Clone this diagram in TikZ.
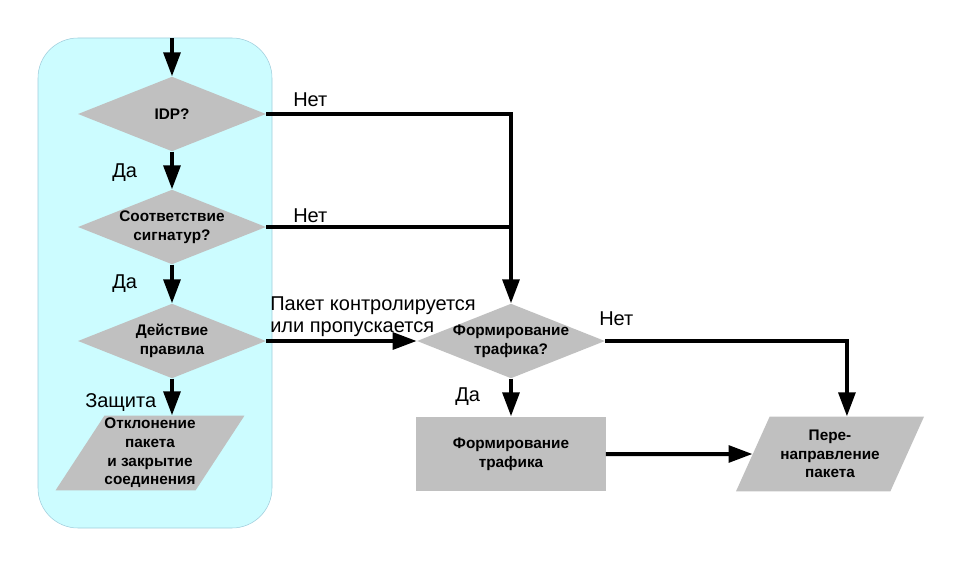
\documentclass[tikz,border=0pt]{standalone}
\usepackage{fontspec}
\setmainfont{Liberation Sans}
\usetikzlibrary{shapes.geometric,arrows.meta,calc}
\definecolor{panelcyan}{RGB}{204,252,255}
\definecolor{panelline}{RGB}{160,205,220}
\definecolor{boxgray}{RGB}{192,192,192}
\newcommand{\boxfont}{\bfseries\fontsize{11.5}{14}\selectfont}
\newcommand{\lblfont}{\fontsize{15}{17}\selectfont}
\tikzset{
dec/.style={diamond, shape aspect=2.5, fill=boxgray, minimum width=141pt, minimum height=56pt, inner sep=-4pt, align=center, font=\boxfont}, % decision
io/.style={trapezium, trapezium left angle=55, trapezium right angle=125, trapezium stretches body=true, fill=boxgray, minimum width=141pt, minimum height=56pt, inner sep=0pt, align=center, font=\boxfont}, % in/out
proc/.style={rectangle, fill=boxgray, minimum width=142pt, minimum height=56pt, align=center, font=\boxfont}, % process
lbl/.style={inner sep=0pt, font=\lblfont}, % edge texts
flow/.style={line width=3pt, -{Triangle[length=18pt,width=12.5pt]}}, % thick arrow
joinline/.style={line width=3pt},
}

\begin{document}
\begin{tikzpicture}[x=0.75pt,y=-0.75pt]
   \useasboundingbox (0,0) rectangle (971,567);
   \draw[panelline, fill=panelcyan, rounded corners=30pt] (38,38) rectangle (272,528);
   \coordinate (in) at (172,38);
   \node[dec] (d_idp) at (172,114) {IDP?};
   \node[dec] (d_sig) at (172,227) {Соответствие\\сигнатур?};
   \node[dec] (d_act) at (172,341) {Действие\\правила};
   \node[io] (o_drop) at (150,453) {Отклонение\\пакета\\и закрытие\\соединения};
   \node[dec] (d_shp) at (511,341) {Формирование\\трафика?};
   \node[proc] (p_shp) at (511,454) {Формирование\\трафика};
   \node[io] (o_redir) at (830,454) {Пере-\\направление\\пакета};
   % labels
   \node[lbl, anchor=base west] (no_idp) at (293,107) {Нет};
   \node[lbl, anchor=base west] (no_sig) at (293,222) {Нет};
   \node[lbl, anchor=base west] (no_shp) at (599,325) {Нет};
   \node[lbl, anchor=base west] (yes_idp) at (112,177) {Да};
   \node[lbl, anchor=base west] (yes_sig) at (112,288) {Да};
   \node[lbl, anchor=base west] (prot) at (85,407) {Защита};
   \node[lbl, anchor=base west] (yes_shp) at (455,401) {Да};
   \node[lbl, anchor=north west, align=left] (pass) at (270,296) {Пакет контролируется\\или пропускается};
   % connectors
   \draw[flow] (in) -- (d_idp.north);
   \draw[flow] (d_idp.south) -- (d_sig.north);
   \draw[flow] (d_sig.south) -- (d_act.north);
   \draw[flow] (d_act.south) -- (d_act.south |- o_drop.north);
   \draw[flow] (d_idp.east) -| (d_shp.north);
   \draw[joinline] (d_sig.east) -- (d_sig.east -| d_shp.north);
   \draw[flow] (d_act.east) -- (d_shp.west);
   \draw[flow] (d_shp.south) -- (p_shp.north);
   \draw[flow] (d_shp.east) -| (o_redir.top side);
   \draw[flow] (p_shp.east) -- (o_redir);
\end{tikzpicture}
\end{document}
